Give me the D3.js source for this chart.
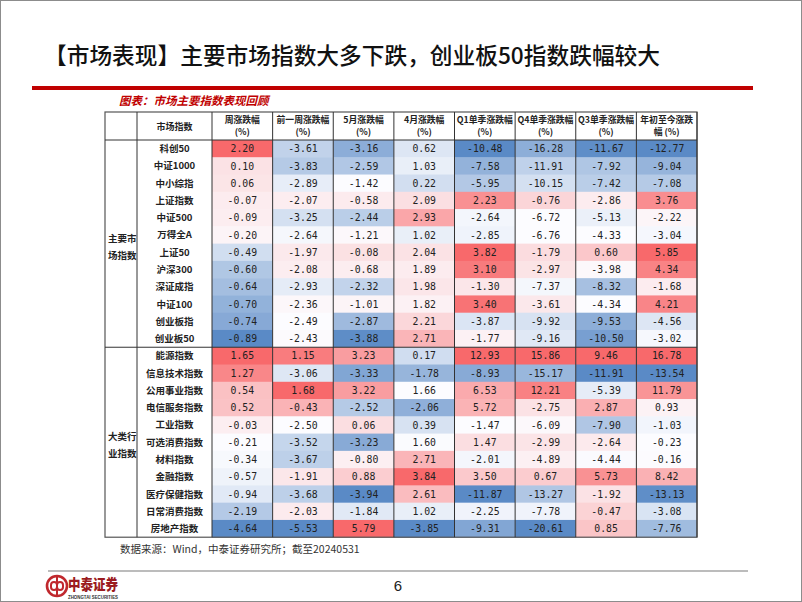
<!DOCTYPE html>
<html>
<head>
<meta charset="utf-8">
<script src="https://cdn.jsdelivr.net/npm/d3@7"></script>
<style>
  body { margin: 0; background: #fff; }
  svg { display: block; font-family: "Noto Sans CJK SC", sans-serif; }
</style>
</head>
<body>
<svg id="vis-svg"></svg>
<script>
/* data */
const headers = [
    ["周涨跌幅", "(%)"], ["前一周涨跌幅", "(%)"], ["5月涨跌幅", "(%)"], ["4月涨跌幅", "(%)"],
    ["Q1单季涨跌幅", "(%)"], ["Q4单季涨跌幅", "(%)"], ["Q3单季涨跌幅", "(%)"], ["年初至今涨跌", "幅 (%)"]
];

const sections = [
    { label: ["主要市", "场指数"], count: 12 },
    { label: ["大类行", "业指数"], count: 11 }
];

const names = [
    "科创50", "中证1000", "中小综指", "上证指数", "中证500", "万得全A",
    "上证50", "沪深300", "深证成指", "中证100", "创业板指", "创业板50",
    "能源指数", "信息技术指数", "公用事业指数", "电信服务指数", "工业指数", "可选消费指数",
    "材料指数", "金融指数", "医疗保健指数", "日常消费指数", "房地产指数"
];

const weekChg   = [2.20, 0.10, 0.06, -0.07, -0.09, -0.20, -0.49, -0.60, -0.64, -0.70, -0.74, -0.89,
                   1.65, 1.27, 0.54, 0.52, -0.03, -0.21, -0.34, -0.57, -0.94, -2.19, -4.64];
const prevWeek  = [-3.61, -3.83, -2.89, -2.07, -3.25, -2.64, -1.97, -2.08, -2.93, -2.36, -2.49, -2.43,
                   1.15, -3.06, 1.68, -0.43, -2.50, -3.52, -3.67, -1.91, -3.68, -2.03, -5.53];
const mayChg    = [-3.16, -2.59, -1.42, -0.58, -2.44, -1.21, -0.08, -0.68, -2.32, -1.01, -2.87, -3.88,
                   3.23, -3.33, 3.22, -2.52, 0.06, -3.23, -0.80, 0.88, -3.94, -1.84, 5.79];
const aprChg    = [0.62, 1.03, 0.22, 2.09, 2.93, 1.02, 2.04, 1.89, 1.98, 1.82, 2.21, 2.71,
                   0.17, -1.78, 1.66, -2.06, 0.39, 1.60, 2.71, 3.84, 2.61, 1.02, -3.85];
const q1Chg     = [-10.48, -7.58, -5.95, 2.23, -2.64, -2.85, 3.82, 3.10, -1.30, 3.40, -3.87, -1.77,
                   12.93, -8.93, 6.53, 5.72, -1.47, 1.47, -2.01, 3.50, -11.87, -2.25, -9.31];
const q4Chg     = [-16.28, -11.91, -10.15, -0.76, -6.72, -6.76, -1.79, -2.97, -7.37, -3.61, -9.92, -9.16,
                   15.86, -15.17, 12.21, -2.75, -6.09, -2.99, -4.89, 0.67, -13.27, -7.78, -20.61];
const q3Chg     = [-11.67, -7.92, -7.42, -2.86, -5.13, -4.33, 0.60, -3.98, -8.32, -4.34, -9.53, -10.50,
                   9.46, -11.91, -5.39, 2.87, -7.90, -2.64, -4.44, 5.73, -1.92, -0.47, 0.85];
const ytdChg    = [-12.77, -9.04, -7.08, 3.76, -2.22, -3.04, 5.85, 4.34, -1.68, 4.21, -4.56, -3.02,
                   16.78, -13.54, 11.79, 0.93, -1.03, -0.23, -0.16, 8.42, -13.13, -3.08, -7.76];

const valueCols = [weekChg, prevWeek, mayChg, aprChg, q1Chg, q4Chg, q3Chg, ytdChg];

// range each column's colour scale was applied over on the slide
const colorScope = ["section", "column", "column", "column", "section", "column", "column", "section"];

/* document */
const width = 802, height = 602;
const svg = d3.select("#vis-svg").attr("width", width).attr("height", height);

// slide frame
svg.append("rect")
    .attr("x", 0.5).attr("y", 0.5)
    .attr("width", width - 1).attr("height", height - 1)
    .attr("fill", "#fff").attr("stroke", "#8c8c8c");

// title
svg.append("text")
    .attr("x", 44).attr("y", 64)
    .attr("textLength", 616).attr("lengthAdjust", "spacingAndGlyphs")
    .style("font-size", "23px").style("font-weight", 500).style("fill", "#111")
    .text("【市场表现】主要市场指数大多下跌，创业板50指数跌幅较大");

svg.append("rect")
    .attr("x", 32).attr("y", 86).attr("width", 721).attr("height", 4)
    .attr("fill", "#c00000");

svg.append("text")
    .attr("x", 119).attr("y", 105)
    .style("font-size", "11.5px").style("font-weight", 700).style("font-style", "italic")
    .style("fill", "#c00000")
    .text("图表：市场主要指数表现回顾");

// table layout
const tableLeft = 105, labelCol = 137, nameRight = 212, tableRight = 697;
const headTop = 112, headBottom = 140, rowH = 17.27;
const nRows = names.length;

const x = d3.scaleBand()
    .domain(d3.range(headers.length))
    .range([nameRight, tableRight]);

const y = d3.scaleBand()
    .domain(d3.range(nRows))
    .range([headBottom, headBottom + rowH * nRows]);

const tableBottom = headBottom + rowH * nRows;

// colour scale: min blue / median white / max red
const fmt = d3.formatLocale({ decimal: ".", thousands: ",", grouping: [3], currency: ["", ""], minus: "-" }).format(".2f");

let start = 0;
const sectionRanges = sections.map(s => {
    let r = [start, start + s.count];
    start += s.count;
    return r;
});

function makeColor(vals) {
    let sorted = vals.slice().sort(d3.ascending);
    return d3.scaleLinear()
        .domain([sorted[0], d3.quantile(sorted, 0.5), sorted[sorted.length - 1]])
        .range(["#5a8ac6", "#fcfcff", "#f8696b"]);
}

const cells = [];
valueCols.forEach((col, c) => {
    let ranges = colorScope[c] === "column" ? [[0, col.length]] : sectionRanges;
    ranges.forEach(([a, b]) => {
        let color = makeColor(col.slice(a, b));
        col.slice(a, b).forEach((v, i) => cells.push({ row: a + i, col: c, value: v, fill: color(v) }));
    });
});

const grid = svg.append("g");

grid.selectAll("rect.cell")
    .data(cells)
    .enter()
        .append("rect")
        .attr("class", "cell")
        .attr("x", d => x(d.col))
        .attr("y", d => y(d.row))
        .attr("width", x.bandwidth())
        .attr("height", y.bandwidth() + 0.5)
        .attr("fill", d => d.fill);

grid.selectAll("text.val")
    .data(cells)
    .enter()
        .append("text")
        .attr("class", "val")
        .attr("x", d => x(d.col) + x.bandwidth() / 2)
        .attr("y", d => y(d.row) + y.bandwidth() / 2 + 3.6)
        .attr("text-anchor", "middle")
        .style("font-family", "'DejaVu Sans Mono', monospace")
        .style("font-size", "9.8px")
        .style("fill", "#222")
        .text(d => fmt(d.value));

// row names
grid.selectAll("text.name")
    .data(names)
    .enter()
        .append("text")
        .attr("class", "name")
        .attr("x", (labelCol + nameRight) / 2)
        .attr("y", (d, i) => y(i) + y.bandwidth() / 2 + 3.5)
        .attr("text-anchor", "middle")
        .style("font-size", "9.5px").style("font-weight", 700).style("fill", "#222")
        .text(d => d);

// section labels
sections.forEach((s, k) => {
    let [a, b] = sectionRanges[k];
    let mid = (y(a) + y(b - 1) + y.bandwidth()) / 2;
    s.label.forEach((t, j) => {
        grid.append("text")
            .attr("x", tableLeft + 3)
            .attr("y", mid - 2 + j * 17)
            .style("font-size", "9.5px").style("font-weight", 700).style("fill", "#222")
            .text(t);
    });
});

// header
headers.forEach((h, c) => {
    h.forEach((t, j) => {
        grid.append("text")
            .attr("x", x(c) + x.bandwidth() / 2)
            .attr("y", headTop + 11 + j * 12)
            .attr("text-anchor", "middle")
            .style("font-size", "8.8px").style("font-weight", 700).style("fill", "#222")
            .text(t);
    });
});
grid.append("text")
    .attr("x", (labelCol + nameRight) / 2)
    .attr("y", (headTop + headBottom) / 2 + 3.5)
    .attr("text-anchor", "middle")
    .style("font-size", "9px").style("font-weight", 700).style("fill", "#222")
    .text("市场指数");

// lines
const lines = svg.append("g").attr("stroke", "#333").attr("stroke-width", 1).attr("fill", "none");

lines.append("rect")
    .attr("x", tableLeft).attr("y", headTop)
    .attr("width", tableRight - tableLeft).attr("height", tableBottom - headTop)
    .attr("stroke", "#555").attr("stroke-width", 1.2);

[labelCol, ...d3.range(headers.length).map(c => x(c)), tableRight].forEach(xx => {
    lines.append("line")
        .attr("x1", xx).attr("x2", xx)
        .attr("y1", headTop).attr("y2", tableBottom);
});

[headBottom, y(sectionRanges[1][0])].forEach(yy => {
    lines.append("line")
        .attr("x1", tableLeft).attr("x2", tableRight)
        .attr("y1", yy).attr("y2", yy);
});

// footer
svg.append("text")
    .attr("x", 120).attr("y", 553)
    .style("font-size", "10.5px").style("fill", "#333")
    .text("数据来源：Wind，中泰证券研究所；截至20240531");

svg.append("line")
    .attr("x1", 48).attr("x2", 748)
    .attr("y1", 571).attr("y2", 571)
    .attr("stroke", "#a6a6a6").attr("stroke-width", 1.5);

svg.append("text")
    .attr("x", 398).attr("y", 591)
    .attr("text-anchor", "middle")
    .style("font-family", "'Liberation Sans', Arial, sans-serif")
    .style("font-size", "15px").style("fill", "#222")
    .text("6");

// logo
const logo = svg.append("g").attr("transform", "translate(57, 586)");
logo.append("circle").attr("r", 10).attr("fill", "none").attr("stroke", "#c0282d").attr("stroke-width", 2.6);
logo.append("rect").attr("x", -6).attr("y", -4).attr("width", 6).attr("height", 8).attr("rx", 3)
    .attr("fill", "none").attr("stroke", "#c0282d").attr("stroke-width", 2);
logo.append("rect").attr("x", 0).attr("y", -4).attr("width", 6).attr("height", 8).attr("rx", 3)
    .attr("fill", "none").attr("stroke", "#c0282d").attr("stroke-width", 2);
logo.append("line").attr("x1", 0).attr("x2", 0).attr("y1", -9).attr("y2", 9)
    .attr("stroke", "#c0282d").attr("stroke-width", 2);

svg.append("text")
    .attr("x", 68).attr("y", 590)
    .attr("textLength", 50).attr("lengthAdjust", "spacingAndGlyphs")
    .style("font-size", "15px").style("font-weight", 900).style("fill", "#9b1b20")
    .text("中泰证券");
svg.append("text")
    .attr("x", 68).attr("y", 599)
    .attr("textLength", 50).attr("lengthAdjust", "spacingAndGlyphs")
    .style("font-family", "'Liberation Sans', Arial, sans-serif")
    .style("font-size", "4.5px").style("font-weight", 700).style("fill", "#333")
    .text("ZHONGTAI SECURITIES");
</script>
</body>
</html>
